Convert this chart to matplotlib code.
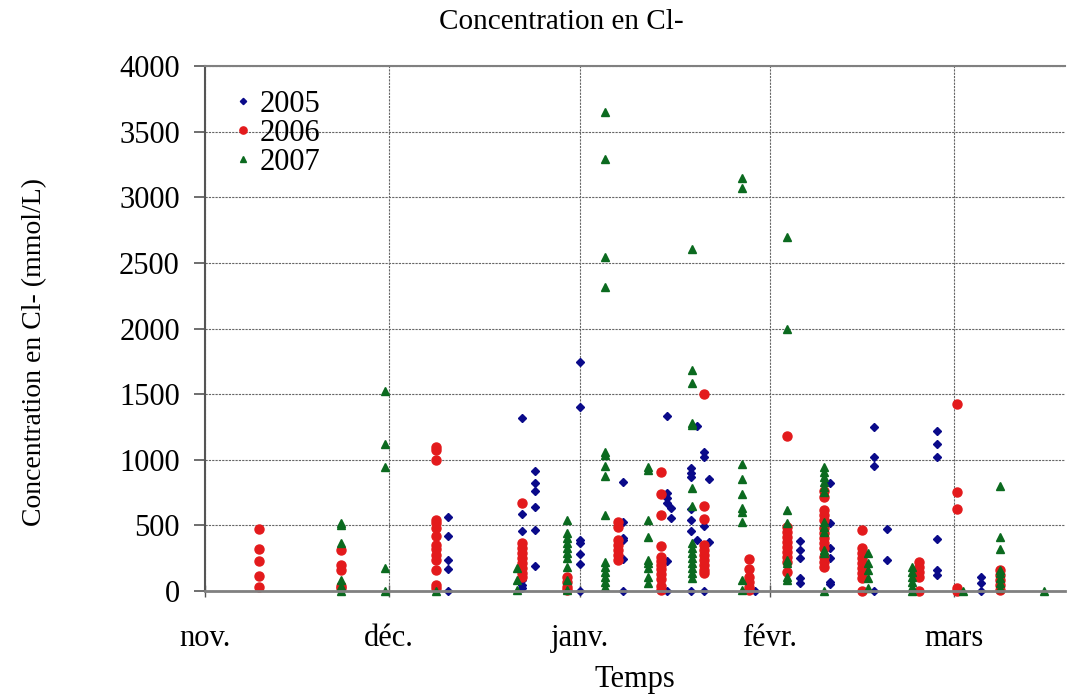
import matplotlib
matplotlib.use("Agg")
import matplotlib.pyplot as plt

plt.rcParams['font.family'] = ['Liberation Serif', 'DejaVu Serif']

# days counted from 1 Nov
month_days = [0, 30, 61, 92, 122]
month_labels = ["nov.", "déc.", "janv.", "févr.", "mars"]

# 2005 series (day, value) grouped by sampling day
x_2005 = ([39.5] * 5 + [51.7] * 6 + [53.8] * 6 + [61] * 7 + [68.1] * 6 + [75.2] * 6 + [75.9] * 2
          + [79.2] * 7 + [80.1] * 2 + [81.3] * 5 + [82] * 2 + [89.6] + [96.9] * 5 + [101.8] * 6
          + [108.9] * 4 + [111] * 2 + [119.2] * 6 + [126.4] * 3)
y_2005 = [564, 417, 236, 168, 2,
          1318, 584, 457, 84, 46, 23,
          914, 825, 762, 642, 465, 193,
          1745, 1404, 389, 363, 280, 206, 2,
          833, 528, 401, 389, 244, 2,
          1333, 744, 706, 668, 231, 2,
          630, 554,
          935, 897, 871, 625, 541, 457, 2,
          1257, 389,
          1061, 1023, 498, 135, 2,
          853, 376,
          2,
          381, 312, 249, 97, 59,
          825, 521, 325, 249, 71, 51,
          1252, 1023, 955, 2,
          470, 236,
          1216, 1120, 1018, 394, 160, 122,
          109, 59, 2]

x_2006 = ([8.8] * 5 + [22.1] * 5 + [37.6] * 14 + [51.7] * 9 + [58.9] * 4 + [67.2] * 7
          + [74.2] * 12 + [81.3] * 10 + [88.6] * 6 + [94.7] * 10 + [100.7] * 13 + [106.9] * 9
          + [116.3] * 5 + [122.4] * 5 + [129.4] * 5)
y_2006 = [472, 322, 226, 114, 28,
          312, 198, 160, 38, 23,
          1099, 1074, 998, 541, 516, 478, 419, 350, 318, 274, 236, 160, 46, 20,
          673, 363, 325, 287, 249, 211, 173, 135, 109,
          109, 71, 33, 8,
          528, 490, 389, 350, 312, 274, 236,
          909, 739, 579, 343, 259, 230, 200, 170, 130, 90, 40, 8,
          1501, 650, 546, 350, 312, 274, 236, 198, 160, 135,
          244, 165, 109, 71, 33, 8,
          1181, 490, 452, 414, 376, 338, 300, 262, 224, 147,
          764, 719, 617, 579, 541, 478, 440, 401, 363, 325, 262, 224, 185,
          465, 325, 287, 249, 211, 173, 135, 97, 2,
          224, 185, 147, 109, 2,
          1422, 754, 622, 20, 2,
          160, 122, 84, 46, 8]

x_2007 = ([22.1] * 6 + [29.3] * 5 + [37.6] + [50.8] * 3 + [58.9] * 10 + [65.1] * 15 + [72.2] * 9
          + [79.3] * 15 + [87.5] * 10 + [94.7] * 8 + [100.7] * 12 + [108] * 5 + [115.1] * 6
          + [123.4] + [129.4] * 8 + [136.6])
y_2007 = [520, 500, 368, 85, 40, 0,
          1526, 1122, 947, 175, 2,
          0,
          173, 84, 8,
          541, 440, 401, 363, 325, 287, 249, 185, 84, 8,
          3652, 3289, 2547, 2314, 1061, 1036, 952, 876, 579, 224, 185, 147, 109, 71, 33,
          947, 922, 541, 414, 236, 211, 173, 109, 59,
          2606, 1684, 1587, 1278, 1265, 787, 650, 363, 325, 287, 249, 211, 173, 135, 97,
          3144, 3068, 968, 856, 737, 630, 604, 523, 84, 8,
          2700, 1996, 617, 516, 236, 211, 109, 84,
          947, 909, 871, 833, 795, 757, 528, 490, 452, 312, 287, 2,
          287, 216, 160, 97, 20,
          185, 147, 109, 71, 33, 2,
          2,
          802, 409, 320, 160, 135, 97, 59, 20,
          2]

fig = plt.figure(figsize=(10.78, 6.96), dpi=100)
ax = fig.add_axes([0.190, 0.151, 0.798, 0.754])

ax.plot(x_2005, y_2005, 'D', color='#0a0a8a', markersize=4, linestyle='none', label='2005', clip_on=False)
ax.plot(x_2006, y_2006, 'o', color='#e31a1c', markersize=6.5, linestyle='none', label='2006', clip_on=False)
ax.plot(x_2007, y_2007, '^', color='#0b6a1f', markersize=6, linestyle='none', label='2007', clip_on=False)

ax.set_xlim(0, 140)
ax.set_ylim(0, 4000)
ax.set_yticks(range(0, 4001, 500))
ax.set_xticks(month_days)
ax.set_xticklabels(month_labels)

ax.grid(True, color='#666666', linestyle=(0, (2, 1)), linewidth=0.8)
ax.set_axisbelow(True)

ax.spines['right'].set_visible(False)
ax.spines['left'].set_color('#555555')
ax.spines['left'].set_linewidth(1.5)
ax.spines['bottom'].set_color('#808080')
ax.spines['bottom'].set_linewidth(2)
ax.spines['top'].set_color('#808080')
ax.spines['top'].set_linewidth(1.5)

ax.tick_params(axis='y', direction='out', length=8, width=1.2, color='#555555', labelsize=22, pad=10)
ax.tick_params(axis='x', direction='inout', length=8, width=1, color='#555555', labelsize=22, pad=20)

fig.text(561 / 1078, 1 - 22 / 696, "Concentration en Cl-", fontsize=21, ha='center', va='center')
fig.text(635 / 1078, 1 - 680 / 696, "Temps", fontsize=22, ha='center', va='center')
fig.text(35 / 1078, 1 - 352 / 696, "Concentration en Cl- (mmol/L)", fontsize=20,
         ha='center', va='center', rotation=90)

leg = ax.legend(loc='upper left', bbox_to_anchor=(0.0, 0.995), frameon=False, fontsize=22,
                handletextpad=0.0, labelspacing=0.0, handlelength=1.1, markerscale=0.8,
                borderaxespad=0.3)

fig.savefig("out.png", dpi=100)
